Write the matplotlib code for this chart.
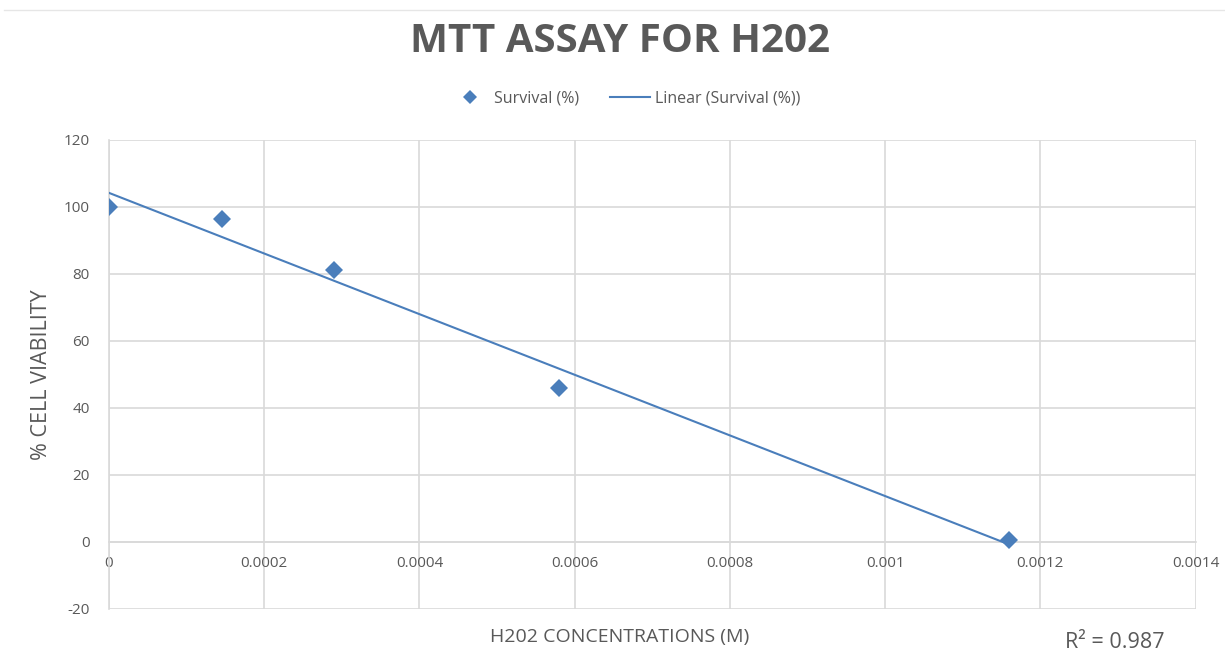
import numpy as np
import matplotlib.pyplot as plt
from matplotlib.lines import Line2D

# 数据
conc = [0, 0.000145, 0.00029, 0.00058, 0.00116]
survival = [100, 96.3, 81.3, 46, 0.6]
x_ticks = [0, 0.0002, 0.0004, 0.0006, 0.0008, 0.001, 0.0012, 0.0014]
x_tick_labels = ['0', '0.0002', '0.0004', '0.0006', '0.0008', '0.001', '0.0012', '0.0014']
y_ticks = [-20, 0, 20, 40, 60, 80, 100, 120]

blue = '#4a7ebb'
grey = '#595959'
grid_c = '#d9d9d9'

plt.rcParams['font.family'] = ['Open Sans', 'DejaVu Sans']
plt.rcParams['axes.unicode_minus'] = False

fig = plt.figure(figsize=(12.25, 6.6), dpi=100)
ax = fig.add_axes([0.089, 0.0773, 0.887, 0.7106])

# 线性拟合
slope, intercept = np.polyfit(conc, survival, 1)
fit_x = np.array([min(conc), max(conc)])
fit_y = slope * fit_x + intercept
pred = slope * np.array(conc) + intercept
ss_res = np.sum((np.array(survival) - pred) ** 2)
ss_tot = np.sum((np.array(survival) - np.mean(survival)) ** 2)
r2 = 1 - ss_res / ss_tot

ax.plot(fit_x, fit_y, color=blue, lw=1.5, zorder=3)
ax.plot(conc, survival, 'D', color=blue, ms=9, mew=0, zorder=4)

ax.set_xlim(0, 0.0014)
ax.set_ylim(-20, 120)
ax.set_xticks(x_ticks)
ax.set_xticklabels(x_tick_labels)
ax.set_yticks(y_ticks)
ax.grid(True, color=grid_c, lw=1.2)
ax.set_axisbelow(True)

for s in ['top', 'right']:
    ax.spines[s].set_visible(False)
ax.spines['left'].set_color(grid_c)
ax.spines['left'].set_linewidth(1.2)
ax.spines['bottom'].set_position(('data', 0))
ax.spines['bottom'].set_color(grid_c)
ax.spines['bottom'].set_linewidth(1.2)
ax.tick_params(axis='both', length=0, colors=grey, labelsize=11)
ax.tick_params(axis='x', pad=10)
ax.tick_params(axis='y', pad=14)

ax.set_ylabel('% CELL VIABILITY', fontsize=15.5, color=grey, labelpad=8)

fig.text(0.506, 0.035, 'H202 CONCENTRATIONS (M)', fontsize=14, color=grey,
         ha='center', va='center')
fig.text(0.91, 0.027, f'R² = {r2:.3f}', fontsize=15.5, color=grey,
         ha='center', va='center')

fig.text(0.506, 0.937, 'MTT ASSAY FOR H202', fontsize=29, fontweight='bold',
         color=grey, ha='center', va='center')

handles = [Line2D([], [], marker='D', ls='none', color=blue, ms=7, mew=0),
           Line2D([], [], color=blue, lw=1.5)]
fig.legend(handles, ['Survival (%)', 'Linear (Survival (%))'],
           loc='center', bbox_to_anchor=(0.51, 0.851), ncol=2, frameon=False,
           fontsize=11.5, labelcolor=grey, handlelength=2.5, columnspacing=1.9,
           handletextpad=0.3)

# 顶部细线
fig.add_artist(Line2D([0.003, 1], [0.985, 0.985], color='#e6e6e6', lw=1,
                      transform=fig.transFigure))

fig.savefig('out.png', dpi=100)
